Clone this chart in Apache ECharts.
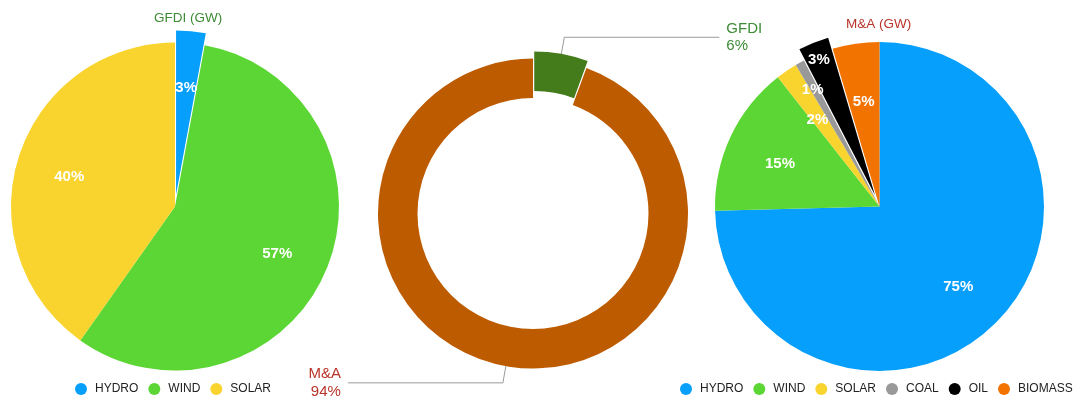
<!DOCTYPE html>
<html><head><meta charset="utf-8">
<script src="https://cdn.jsdelivr.net/npm/echarts@6/dist/echarts.min.js"></script>
<style>html,body{margin:0;padding:0;background:#fff}#c{width:1078px;height:403px}</style>
</head><body><div id="c"></div>
<script>
// ---- data ----
const gfdiNames = ['HYDRO', 'WIND', 'SOLAR'];
const gfdiValues = [2.9, 56.9, 40.2];
const donutNames = ['GFDI', 'M&A'];
const donutValues = [5.6, 94.4];
const maNames = ['HYDRO', 'WIND', 'SOLAR', 'COAL', 'OIL', 'BIOMASS'];
const maValues = [74.6, 14.8, 2.1, 0.9, 3.0, 4.6];
const titleTexts = ['GFDI (GW)', 'M&A (GW)'];

// ---- styles ----
const FONT = '"Liberation Sans", Arial, Helvetica, sans-serif';
const colors = {HYDRO:'#069ffb', WIND:'#5bd634', SOLAR:'#f9d42f', COAL:'#999999', OIL:'#000000', BIOMASS:'#f37300', GFDI:'#447c1b', 'M&A':'#bd5b00'};
const textColors = {GFDI:'#3d8b36', 'M&A':'#b8352b'};

const L = {center:[175, 206.5], R:164, explode:'HYDRO', offset:12};
const M = {center:[533, 213.5], R:155, r0:115.5, explode:'GFDI', offset:7};
const Rt = {center:[879.5, 206.5], R:164.5, explode:'OIL', offset:12};

function items(names, values, explode) {
  return names.map((n, i) => ({name:n, value:values[i], selected:n === explode, itemStyle:{color:colors[n]}}));
}
function pct(p) { return Math.round(p.percent) + '%'; }

function mainPie(cfg, names, values, r0) {
  return {
    type:'pie', center:cfg.center, radius:[r0 || 0, cfg.R], startAngle:90, clockwise:true,
    selectedMode:'single', selectedOffset:cfg.offset, emphasis:{disabled:true},
    label:{show:false}, labelLine:{show:false},
    data:items(names, values, cfg.explode)
  };
}
// label carrier: transparent pie whose half radius positions the inside labels
function labelPie(cfg, names, values, dist, show) {
  return {
    type:'pie', center:cfg.center, radius:[0, 2 * (dist - 3)], startAngle:90, clockwise:true,
    silent:true, legendHoverLink:false, z:5, labelLayout:{hideOverlap:false},
    selectedMode:'single', selectedOffset:cfg.offset, emphasis:{disabled:true},
    itemStyle:{color:'rgba(0,0,0,0)', borderWidth:0}, labelLine:{show:false},
    label:{show:true, position:'inside', fontFamily:FONT,
      formatter:p => '{gap|}\n{v|' + pct(p) + '}',
      rich:{gap:{height:8, lineHeight:8, fontSize:8}, v:{color:'#ffffff', fontSize:15, fontWeight:'bold', lineHeight:18, fontFamily:FONT}}},
    data:names.map((n, i) => ({name:n, value:values[i], selected:n === cfg.explode, label:{show:show(n)}}))
  };
}
const legendBase = {padding:0, icon:'circle', itemWidth:12, itemHeight:12, itemGap:10,
  textStyle:{color:'#222', fontSize:12, fontFamily:FONT, padding:[0, 0, 0, 3]}};

const option = {
  animation:false,
  textStyle:{fontFamily:FONT},
  title:[
    {text:titleTexts[0], left:154, top:11, padding:0, textStyle:{color:'#3d8b36', fontSize:13.5, fontWeight:'normal', fontFamily:FONT}},
    {text:titleTexts[1], left:846, top:17.5, padding:0, textStyle:{color:'#b8352b', fontSize:13.5, fontWeight:'normal', fontFamily:FONT}}
  ],
  legend:[
    Object.assign({data:gfdiNames, left:75, top:383}, legendBase),
    Object.assign({data:maNames, left:680, top:383}, legendBase)
  ],
  series:[
    mainPie(L, gfdiNames, gfdiValues),
    mainPie(Rt, maNames, maValues),
    {
      type:'pie', center:M.center, radius:[M.r0, M.R], startAngle:90, clockwise:true,
      selectedMode:'single', selectedOffset:M.offset, emphasis:{disabled:true},
      label:{show:true, position:'outside', fontSize:15, lineHeight:17.5, fontFamily:FONT,
        distanceToLabelLine:7, formatter:p => p.name + '\n' + pct(p)},
      labelLine:{show:true, length:17, length2:155, lineStyle:{color:'#999999', width:1}},
      data:donutNames.map((n, i) => ({name:n, value:donutValues[i], selected:n === M.explode,
        itemStyle:{color:colors[n]}, label:{color:textColors[n]}}))
    },
    labelPie(L, gfdiNames, gfdiValues, 111, () => true),
    labelPie(Rt, maNames, maValues, 110, n => n !== 'COAL' && n !== 'OIL'),
    labelPie(Rt, maNames, maValues, 138, n => n === 'COAL'),
    labelPie(Rt, maNames, maValues, 150, n => n === 'OIL')
  ]
};
const chart = echarts.init(document.getElementById('c'), null, {renderer:'canvas'});
chart.setOption(option);
</script></body></html>
